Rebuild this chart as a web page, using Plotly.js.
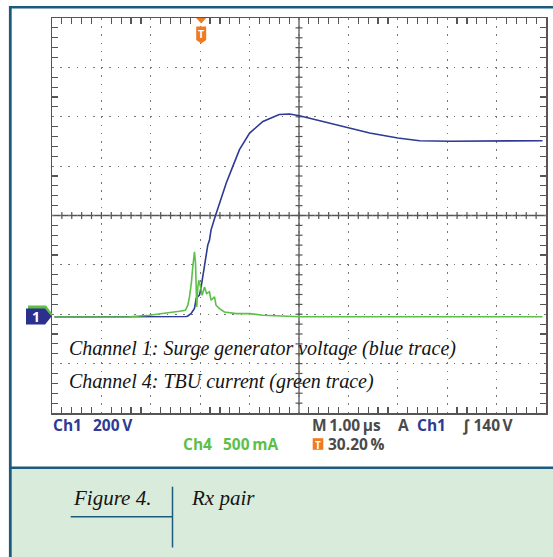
<!DOCTYPE html>
<html><head><meta charset="utf-8">
<script src="https://cdn.plot.ly/plotly-3.0.1.min.js"></script>
<style>html,body{margin:0;padding:0;background:#fff;}#chart{width:553px;height:557px;}</style>
</head><body><div id="chart"></div>
<script>
// ---- data ----
const ch1TimeUs = [-2.97,-1.05,-0.44,-0.30,-0.27,-0.20,-0.136,-0.115,-0.10,-0.07,-0.034,0,0.032,0.067,0.10,0.134,0.168,0.20,0.29,0.39,0.506,0.64,0.775,0.98,1.25,1.58,1.79,1.99,2.39,3.0,3.41,3.98,4.42,5.03,6.91];
const ch1Volts  = [0,0,1,2,4,15,35,62,76,82,89,123,163,204,258,292,312,353,411,475,542,610,678,745,792,820,822,815,796,766,745,725,714,712,714];
const ch4TimeUs = [-2.97,-1.45,-1.05,-0.64,-0.44,-0.32,-0.27,-0.237,-0.20,-0.17,-0.136,-0.115,-0.10,-0.09,-0.07,-0.05,-0.02,0.02,0.067,0.11,0.168,0.20,0.27,0.30,0.37,0.47,0.71,0.98,1.25,1.58,1.99,6.91];
const ch4MilliAmps = [0,2,17,41,58,68,119,203,339,507,659,545,304,101,288,372,321,220,304,237,254,169,203,119,85,51,34,34,17,7,2,2];

const timeRangeUs = [-3.02, 6.98];   // 10 div x 1.00 us, trigger at 30.20 %
const ch1RangeV = [-389, 1211];      // 8 div x 200 V
const ch4RangeMA = [-972.5, 3027.5]; // 8 div x 500 mA
const ch1Label = ["Ch1", "200\u2009V"];
const ch4Label = ["Ch4", "500\u2009mA"];
const timebaseLabel = ["M\u20091.00\u2009\u00b5s", "A", "Ch1", "\u222b 140\u2009V"];
const triggerPosLabel = "30.20\u2009%";
const noteLines = ["Channel 1: Surge generator voltage (blue trace)", "Channel 4: TBU current (green trace)"];
const figureLabel = "Figure 4.";
const figureTitle = "Rx pair";

// ---- layout helpers ----
const L=52, T=18, PW=494, PH=395;
const fx = p => (p-L)/PW;
const fy = p => (T+PH-p)/PH;
const frameCol = '#1d5b7e', gridCol = '#555555';
const blue = '#2e3a94', green = '#5cbf48', gray = '#4a4a4a', orange = '#f07a22';
const centerT = (timeRangeUs[0]+timeRangeUs[1])/2;
const centerV = (ch1RangeV[0]+ch1RangeV[1])/2;

const shapes = [];
// caption background and frame
shapes.push({type:'rect', xref:'paper', yref:'paper', x0:fx(11), x1:fx(560), y0:fy(469), y1:fy(560), fillcolor:'#d9ebdb', line:{width:0}, layer:'below'});
shapes.push({type:'line', xref:'paper', yref:'paper', x0:fx(10), x1:fx(560), y0:fy(467.8), y1:fy(467.8), line:{color:frameCol, width:2.5}});
shapes.push({type:'line', xref:'paper', yref:'paper', x0:fx(10.3), x1:fx(10.3), y0:fy(6), y1:fy(560), line:{color:frameCol, width:2.8}});
shapes.push({type:'line', xref:'paper', yref:'paper', x0:fx(9), x1:fx(560), y0:fy(7.3), y1:fy(7.3), line:{color:frameCol, width:2.5}});
// graticule centre cross
shapes.push({type:'line', xref:'x', yref:'paper', x0:centerT, x1:centerT, y0:0, y1:1, line:{color:gridCol, width:1.3}, layer:'between'});
shapes.push({type:'line', xref:'paper', yref:'y', x0:0, x1:1, y0:centerV, y1:centerV, line:{color:gridCol, width:1.3}, layer:'between'});
const xStep = (timeRangeUs[1]-timeRangeUs[0])/50;
for (let k=1;k<50;k++){
  const t = timeRangeUs[0]+k*xStep;
  shapes.push({type:'line', xref:'x', yref:'y', x0:t, x1:t, ysizemode:'pixel', yanchor:centerV, y0:-3.5, y1:3.5, line:{color:gridCol, width:1.2}, layer:'between'});
}
const yStep = (ch1RangeV[1]-ch1RangeV[0])/40;
for (let k=1;k<40;k++){
  const v = ch1RangeV[0]+k*yStep;
  shapes.push({type:'line', xref:'x', yref:'y', y0:v, y1:v, xsizemode:'pixel', xanchor:centerT, x0:-3.5, x1:3.5, line:{color:gridCol, width:1.2}, layer:'between'});
}
// trigger position marker (orange)
shapes.push({type:'path', xref:'x', yref:'paper', xsizemode:'pixel', ysizemode:'pixel', xanchor:0, yanchor:1,
  path:'M -5,0 L 5,0 L 0,-5.5 Z', fillcolor:orange, line:{width:0}});
shapes.push({type:'path', xref:'x', yref:'paper', xsizemode:'pixel', ysizemode:'pixel', xanchor:0, yanchor:1,
  path:'M -5,-8.5 L 5,-8.5 L 5,-22 L 0,-25.5 L -5,-22 Z', fillcolor:orange, line:{width:0}});
// trigger icon in readout
shapes.push({type:'rect', xref:'paper', yref:'paper', x0:fx(312.7), x1:fx(323.3), y0:fy(449.8), y1:fy(438.2), fillcolor:orange, line:{width:0}});
// channel ground markers
shapes.push({type:'path', xref:'paper', yref:'y2', xsizemode:'pixel', ysizemode:'pixel', xanchor:0, yanchor:0,
  path:'M -24,11.5 L -6,11.5 L 0.5,3 L -6,-5 L -24,-5 Z', fillcolor:green, line:{width:0}});
shapes.push({type:'path', xref:'paper', yref:'y', xsizemode:'pixel', ysizemode:'pixel', xanchor:0, yanchor:0,
  path:'M -26,8.5 L -7,8.5 L -0.5,0.5 L -7,-7.5 L -26,-7.5 Z', fillcolor:'#2b2f8e', line:{width:0}});
// caption rules
shapes.push({type:'line', xref:'paper', yref:'paper', x0:fx(70.7), x1:fx(172.5), y0:fy(516.7), y1:fy(516.7), line:{color:frameCol, width:1.5}});
shapes.push({type:'line', xref:'paper', yref:'paper', x0:fx(172.5), x1:fx(172.5), y0:fy(486.7), y1:fy(547.5), line:{color:frameCol, width:1.5}});

const ann = (x, y, text, font, extra) => Object.assign({xref:'paper', yref:'paper', x:fx(x), y:fy(y), text:text, showarrow:false,
  xanchor:'left', yanchor:'middle', borderpad:0, borderwidth:0, font:font}, extra||{});
const sansB = (c, s) => ({family:'Open Sans, Noto Sans, sans-serif', size:s||15.5, color:c, weight:700});
const serifI = (s) => ({family:'Liberation Serif, serif', size:s, color:'#141414', style:'italic'});

const annotations = [
  ann(69, 348, noteLines[0], serifI(20)),
  ann(69, 381, noteLines[1], serifI(20)),
  ann(52.5, 425.3, ch1Label[0], sansB(blue)),
  ann(92.5, 425.3, ch1Label[1], sansB(blue)),
  ann(182.7, 443.7, ch4Label[0], sansB(green)),
  ann(222.7, 443.7, ch4Label[1], sansB(green)),
  ann(311.5, 425.3, timebaseLabel[0], sansB(gray)),
  ann(398.3, 425.3, timebaseLabel[1], sansB(gray)),
  ann(417.3, 425.3, timebaseLabel[2], sansB(blue)),
  ann(463, 425.3, timebaseLabel[3], sansB(gray)),
  ann(327.7, 443.7, triggerPosLabel, sansB(gray)),
  ann(73, 497.7, figureLabel, serifI(21)),
  ann(191, 497.7, figureTitle, serifI(21)),
  {xref:'paper', yref:'paper', x:fx(318), y:fy(444), xanchor:'center', yanchor:'middle', text:'T', showarrow:false,
   borderpad:0, borderwidth:0, height:11, font:{family:'Open Sans, sans-serif', size:10, color:'#fff', weight:700}},
  {xref:'x', yref:'paper', x:0, y:fy(34), xanchor:'center', yanchor:'middle', text:'T', showarrow:false,
   borderpad:0, borderwidth:0, font:{family:'Open Sans, sans-serif', size:10.5, color:'#fff', weight:700}},
  {xref:'paper', yref:'y', x:fx(36), y:0, xanchor:'center', yanchor:'middle', text:'1', showarrow:false,
   borderpad:0, borderwidth:0, font:{family:'Open Sans, sans-serif', size:14, color:'#fff', weight:700}}
];

const traces = [
  {x:ch4TimeUs, y:ch4MilliAmps, yaxis:'y2', type:'scatter', mode:'lines', line:{color:green, width:1.6}, hoverinfo:'skip'},
  {x:ch1TimeUs, y:ch1Volts, type:'scatter', mode:'lines', line:{color:blue, width:1.6}, hoverinfo:'skip'}
];

const layout = {
  width:553, height:557, showlegend:false,
  margin:{l:L, r:553-L-PW, t:T, b:557-T-PH, pad:0},
  paper_bgcolor:'#ffffff', plot_bgcolor:'rgba(0,0,0,0)',
  xaxis:{range:timeRangeUs, tick0:-0.02, dtick:1, showgrid:true, gridcolor:'#777', gridwidth:1.1, griddash:'1.5px,6.7px',
    zeroline:false, showticklabels:false, ticks:'', showline:true, linecolor:gridCol, linewidth:1.5, mirror:'ticks',
    minor:{tick0:-0.02, dtick:0.2, ticks:'inside', ticklen:6, tickcolor:gridCol, tickwidth:1.2, showgrid:false}},
  yaxis:{range:ch1RangeV, tick0:11, dtick:200, showgrid:true, gridcolor:'#777', gridwidth:1.1, griddash:'1.5px,6.7px',
    zeroline:false, showticklabels:false, ticks:'', showline:true, linecolor:gridCol, linewidth:1.5, mirror:'ticks',
    minor:{tick0:11, dtick:40, ticks:'inside', ticklen:6, tickcolor:gridCol, tickwidth:1.2, showgrid:false}},
  yaxis2:{range:ch4RangeMA, overlaying:'y', showgrid:false, zeroline:false, showticklabels:false, ticks:'', showline:false},
  shapes:shapes, annotations:annotations
};
Plotly.newPlot('chart', traces, layout, {staticPlot:true, displayModeBar:false});
</script></body></html>
